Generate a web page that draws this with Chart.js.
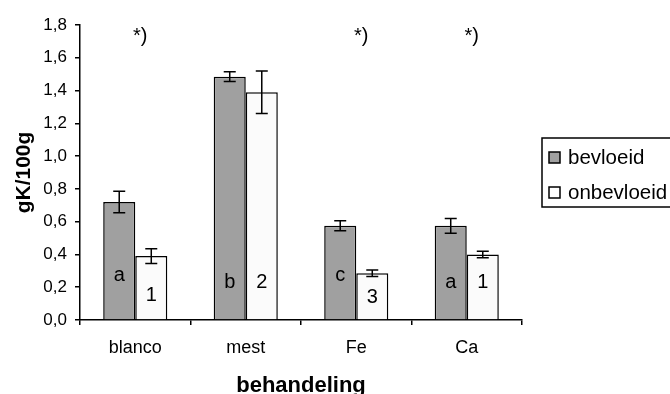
<!DOCTYPE html>
<html>
<head>
<meta charset="utf-8">
<script src="https://cdn.jsdelivr.net/npm/chart.js@4/dist/chart.umd.min.js"></script>
<style>
  html, body { margin: 0; padding: 0; background: #fff; }
  #wrap { width: 670px; height: 394px; position: relative; }
</style>
</head>
<body>
<div id="wrap"><canvas id="grafico" width="670" height="394"></canvas></div>
<script>
// ================= DADOS =================
const categorias = ["blanco", "mest", "Fe", "Ca"];
const bevloeid = [0.72, 1.485, 0.575, 0.575];
const bevloeidFout = [0.065, 0.03, 0.03, 0.045];
const onbevloeid = [0.39, 1.39, 0.285, 0.40];
const onbevloeidFout = [0.045, 0.13, 0.02, 0.02];
const lettersBev = ["a", "b", "c", "a"];
const lettersOnbev = ["1", "2", "3", "1"];
const letterHoogteBev = [0.27, 0.23, 0.27, 0.23];
const letterHoogteOnbev = [0.15, 0.23, 0.14, 0.23];
const sterretjes = ["*)", "", "*)", "*)"];
const sterHoogte = 1.73;
const yTicks = [0, 0.2, 0.4, 0.6, 0.8, 1.0, 1.2, 1.4, 1.6, 1.8];

const FONT = "'Liberation Sans', Arial, sans-serif";

// ================= PLUGINS =================
const foutbalken = {
  id: "foutbalken",
  afterDatasetsDraw(chart) {
    const c = chart.ctx;
    const y = chart.scales.y;
    const fouten = [bevloeidFout, onbevloeidFout];
    c.save();
    c.strokeStyle = "#000";
    c.lineWidth = 1.5;
    chart.data.datasets.forEach((ds, i) => {
      const meta = chart.getDatasetMeta(i);
      meta.data.forEach((bar, j) => {
        const v = ds.data[j];
        const e = fouten[i][j];
        const x = bar.x;
        const yt = y.getPixelForValue(v + e);
        const yb = y.getPixelForValue(v - e);
        c.beginPath();
        c.moveTo(x, yt); c.lineTo(x, yb);
        c.moveTo(x - 6, yt); c.lineTo(x + 6, yt);
        c.moveTo(x - 6, yb); c.lineTo(x + 6, yb);
        c.stroke();
      });
    });

    // letters in de balken
    c.fillStyle = "#000";
    c.font = "20px " + FONT;
    c.textAlign = "center";
    c.textBaseline = "middle";
    const letters = [lettersBev, lettersOnbev];
    const hoogtes = [letterHoogteBev, letterHoogteOnbev];
    chart.data.datasets.forEach((ds, i) => {
      chart.getDatasetMeta(i).data.forEach((bar, j) => {
        c.fillText(letters[i][j], bar.x, y.getPixelForValue(hoogtes[i][j]));
      });
    });

    // sterretjes
    const xs = chart.scales.x;
    c.textAlign = "center";
    sterretjes.forEach((s, j) => {
      if (s) c.fillText(s, xs.getPixelForValue(j) + 5, y.getPixelForValue(sterHoogte));
    });

    // legenda
    c.lineWidth = 1.5;
    c.strokeRect(542, 138, 140, 69);
    c.fillStyle = "#a0a0a0";
    c.fillRect(549, 152, 11, 11);
    c.strokeRect(549, 152, 11, 11);
    c.fillStyle = "#fff";
    c.fillRect(549, 187, 11, 11);
    c.strokeRect(549, 187, 11, 11);
    c.fillStyle = "#000";
    c.font = "20.5px " + FONT;
    c.textAlign = "left";
    c.fillText("bevloeid", 568, 158);
    c.fillText("onbevloeid", 568, 193);
    c.restore();
  }
};

// ================= GRÁFICO =================
let ctx = document.getElementById("grafico");

let chart = new Chart(ctx, {
  type: "bar",
  data: {
    labels: categorias,
    datasets: [
      {
        label: "bevloeid",
        data: bevloeid,
        backgroundColor: "#a0a0a0",
        borderColor: "#000",
        borderWidth: 1.5,
        borderSkipped: "bottom"
      },
      {
        label: "onbevloeid",
        data: onbevloeid,
        backgroundColor: "#fbfbfb",
        borderColor: "#000",
        borderWidth: 1.5,
        borderSkipped: "bottom"
      }
    ]
  },
  options: {
    responsive: false,
    animation: false,
    devicePixelRatio: 1,
    categoryPercentage: 0.58,
    barPercentage: 1.0,
    layout: { padding: { top: 25, right: 148, left: 0, bottom: 0 } },
    plugins: {
      legend: { display: false },
      tooltip: { enabled: false }
    },
    scales: {
      x: {
        afterFit(axis) { axis.height = 74; },
        grid: { display: true, drawOnChartArea: false, drawTicks: true, tickLength: 5, color: "#000", lineWidth: 1.5, offset: true },
        border: { display: true, color: "#000", width: 1.5 },
        ticks: { color: "#000", font: { family: FONT, size: 18 }, padding: 12 },
        title: { display: true, text: "behandeling", color: "#000", font: { family: FONT, size: 22, weight: "bold", lineHeight: 1 }, padding: { top: 4, bottom: -3 } }
      },
      y: {
        min: 0,
        max: 1.8,
        afterFit(axis) { axis.width = 80; },
        afterBuildTicks(axis) { axis.ticks = yTicks.map(v => ({ value: v })); },
        grid: { display: true, drawOnChartArea: false, drawTicks: true, tickLength: 5, color: "#000", lineWidth: 1.5 },
        border: { display: true, color: "#000", width: 1.5 },
        ticks: {
          color: "#000",
          font: { family: FONT, size: 17 },
          padding: 8,
          callback: v => v.toFixed(1).replace(".", ",")
        },
        title: { display: true, text: "gK/100g", color: "#000", font: { family: FONT, size: 21, weight: "bold", lineHeight: 1 }, padding: { top: 14, bottom: 0 } }
      }
    }
  },
  plugins: [foutbalken]
});
</script>
</body>
</html>
